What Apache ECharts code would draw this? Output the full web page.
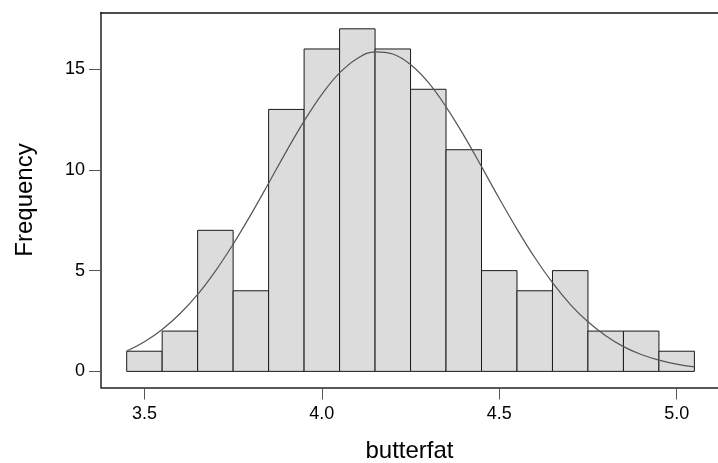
<!DOCTYPE html>
<html>
<head>
<meta charset="utf-8">
<script src="https://cdn.jsdelivr.net/npm/echarts@6/dist/echarts.min.js"></script>
<style>
  html, body { margin: 0; padding: 0; background: #fff; }
  #chart { width: 718px; height: 463px; }
</style>
</head>
<body>
<div id="chart"></div>
<script>
// histogram bins (lower edge) and counts
var binLower = [3.45, 3.55, 3.65, 3.75, 3.85, 3.95, 4.05, 4.15, 4.25, 4.35, 4.45, 4.55, 4.65, 4.75, 4.85, 4.95];
var binUpper = [3.55, 3.65, 3.75, 3.85, 3.95, 4.05, 4.15, 4.25, 4.35, 4.45, 4.55, 4.65, 4.75, 4.85, 4.95, 5.05];
var counts = [1, 2, 7, 4, 13, 16, 17, 16, 14, 11, 5, 4, 5, 2, 2, 1];

// fitted curve
var curveX = [3.45, 3.5, 3.55, 3.6, 3.65, 3.7, 3.75, 3.8, 3.85, 3.9, 3.95, 4.0, 4.05, 4.1, 4.15, 4.2, 4.25,
  4.3, 4.35, 4.4, 4.45, 4.5, 4.55, 4.6, 4.65, 4.7, 4.75, 4.8, 4.85, 4.9, 4.95, 5.0, 5.05];
var curveY = [1.01, 1.47, 2.08, 2.86, 3.82, 4.98, 6.31, 7.78, 9.34, 10.92, 12.42, 13.75, 14.81, 15.53, 15.86, 15.75, 15.23,
  14.34, 13.13, 11.71, 10.16, 8.58, 7.06, 5.65, 4.40, 3.33, 2.46, 1.77, 1.23, 0.84, 0.56, 0.36, 0.22];

var xTicks = [3.5, 4.0, 4.5, 5.0];
var yTicks = [0, 5, 10, 15];

var barData = binLower.map(function (lo, i) {
  return [lo, binUpper[i], counts[i]];
});
var curveData = curveX.map(function (x, i) {
  return [x, curveY[i]];
});

var font = 'Liberation Sans, Arial, sans-serif';

var chart = echarts.init(document.getElementById('chart'));
chart.setOption({
  animation: false,
  grid: { left: 101, right: 0, top: 12.5, bottom: 75.5, outerBoundsMode: 'none', containLabel: false },
  xAxis: [{
    type: 'value',
    min: 3.3776,
    max: 5.1165,
    name: 'butterfat',
    nameLocation: 'middle',
    nameGap: 52,
    nameTextStyle: { fontFamily: font, fontSize: 24, color: '#000' },
    axisLine: { show: true, onZero: false, lineStyle: { color: '#222', width: 1.5 } },
    axisTick: { show: true, length: 12, customValues: xTicks, lineStyle: { color: '#555', width: 1 } },
    axisLabel: {
      customValues: xTicks, margin: 18, fontFamily: font, fontSize: 18, color: '#000',
      formatter: function (v) { return v.toFixed(1); }
    },
    splitLine: { show: false }
  }, {
    type: 'value',
    position: 'top',
    min: 3.3776,
    max: 5.1165,
    axisLine: { show: true, onZero: false, lineStyle: { color: '#111', width: 1.5 } },
    axisTick: { show: false },
    axisLabel: { show: false },
    splitLine: { show: false }
  }],
  yAxis: {
    type: 'value',
    min: -0.8,
    max: 17.81,
    name: 'Frequency',
    nameLocation: 'middle',
    nameGap: 64,
    nameRotate: 90,
    nameTextStyle: { fontFamily: font, fontSize: 24, color: '#000' },
    axisLine: { show: true, onZero: false, lineStyle: { color: '#222', width: 1.5 } },
    axisTick: { show: true, length: 12, customValues: yTicks, lineStyle: { color: '#555', width: 1 } },
    axisLabel: { customValues: yTicks, margin: 16, fontFamily: font, fontSize: 18, color: '#000' },
    splitLine: { show: false }
  },
  series: [{
    type: 'custom',
    xAxisIndex: 0,
    renderItem: function (params, api) {
      var p0 = api.coord([api.value(0), api.value(2)]);
      var p1 = api.coord([api.value(1), 0]);
      return {
        type: 'rect',
        shape: { x: p0[0], y: p0[1], width: p1[0] - p0[0], height: p1[1] - p0[1] },
        style: { fill: '#dcdcdc', stroke: '#1a1a1a', lineWidth: 1 }
      };
    },
    encode: { x: [0, 1], y: 2 },
    data: barData
  }, {
    type: 'line',
    xAxisIndex: 0,
    data: curveData,
    smooth: 0.4,
    showSymbol: false,
    lineStyle: { color: '#555', width: 1.2 },
    z: 5
  }]
});
</script>
</body>
</html>
